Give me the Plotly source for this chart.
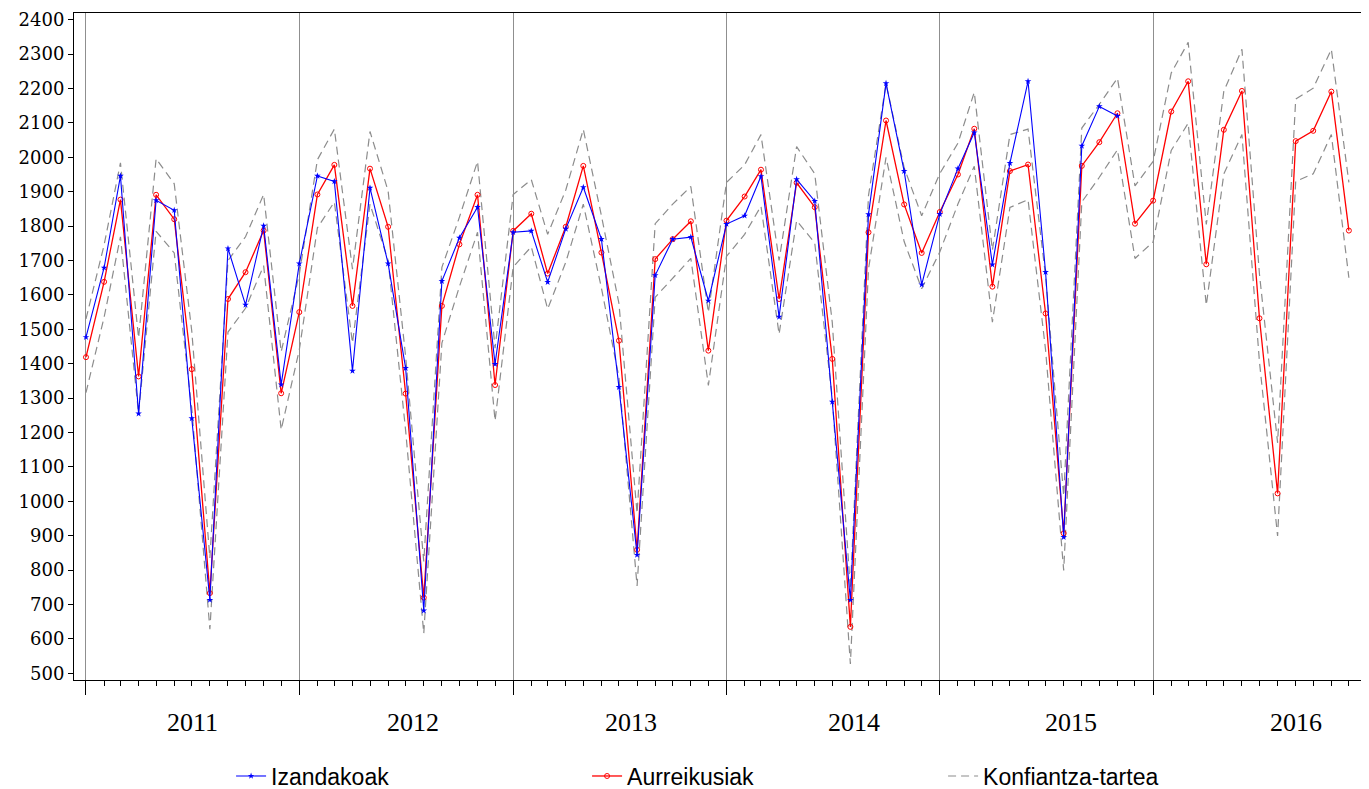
import plotly.graph_objects as go
import pandas as pd

months = pd.date_range("2011-01-01", periods=72, freq="MS")

izandakoak = [
    1477, 1679, 1946, 1255, 1875, 1846, 1241, 713, 1735, 1571, 1801, 1339,
    1691, 1946, 1930, 1379, 1911, 1691, 1387, 682, 1640, 1766, 1855, 1399,
    1782, 1786, 1637, 1792, 1913, 1762, 1332, 844, 1657, 1762, 1768, 1583,
    1806, 1830, 1945, 1536, 1936, 1873, 1289, 713, 1834, 2215, 1960, 1630,
    1835, 1967, 2072, 1688, 1983, 2221, 1666, 896, 2033, 2148, 2120,
]

aurreikusiak = [
    1419, 1638, 1877, 1363, 1891, 1820, 1384, 733, 1588, 1666, 1787, 1314,
    1550, 1892, 1978, 1568, 1967, 1798, 1313, 720, 1568, 1747, 1891, 1338,
    1786, 1836, 1662, 1798, 1975, 1723, 1467, 859, 1704, 1762, 1814, 1438,
    1816, 1886, 1964, 1588, 1926, 1855, 1414, 635, 1782, 2107, 1863, 1722,
    1841, 1950, 2083, 1624, 1960, 1979, 1546, 907, 1975, 2044, 2128, 1807,
    1874, 2133, 2221, 1689, 2080, 2193, 1532, 1023, 2047, 2077, 2191, 1787,
]

goiko_muga = [
    1530, 1745, 1984, 1475, 1996, 1923, 1495, 835, 1700, 1769, 1892, 1435,
    1660, 1993, 2082, 1675, 2075, 1902, 1420, 825, 1680, 1826, 1988, 1445,
    1892, 1935, 1776, 1905, 2081, 1830, 1575, 965, 1807, 1864, 1915, 1549,
    1927, 1978, 2066, 1700, 2031, 1952, 1520, 745, 1889, 2215, 1970, 1830,
    1953, 2041, 2189, 1730, 2066, 2082, 1655, 1015, 2085, 2154, 2230, 1917,
    1988, 2245, 2334, 1805, 2192, 2314, 1660, 1170, 2169, 2201, 2314, 1927,
]

beheko_muga = [
    1316, 1535, 1769, 1255, 1785, 1722, 1270, 628, 1492, 1561, 1685, 1208,
    1440, 1795, 1870, 1460, 1864, 1700, 1205, 616, 1460, 1624, 1782, 1234,
    1681, 1740, 1559, 1695, 1864, 1620, 1360, 754, 1593, 1650, 1706, 1337,
    1712, 1776, 1858, 1486, 1816, 1751, 1300, 527, 1675, 2000, 1755, 1618,
    1725, 1864, 1974, 1521, 1854, 1877, 1440, 799, 1870, 1942, 2022, 1706,
    1754, 2020, 2099, 1570, 1952, 2066, 1405, 899, 1930, 1952, 2066, 1650,
]

urteak = ["2011", "2012", "2013", "2014", "2015", "2016"]
urte_etiketa_pos = ["2011-07-02", "2012-07-13", "2013-07-22", "2014-08-07", "2015-08-14", "2016-09-02"]

series_names = ["Izandakoak", "Aurreikusiak", "Konfiantza-tartea"]

fig = go.Figure()

dash_style = dict(color="#8c8c8c", width=1.2, dash="8px,5px")
fig.add_trace(go.Scatter(x=months, y=goiko_muga, mode="lines", line=dash_style,
                         name=series_names[2], legendrank=3, showlegend=True, hoverinfo="skip"))
fig.add_trace(go.Scatter(x=months, y=beheko_muga, mode="lines", line=dash_style,
                         name=series_names[2], showlegend=False, hoverinfo="skip"))
fig.add_trace(go.Scatter(x=months, y=aurreikusiak, mode="lines+markers", name=series_names[1],
                         legendrank=2,
                         line=dict(color="#ff0000", width=1.3),
                         marker=dict(symbol="circle-open", size=5, color="#ff0000",
                                     line=dict(width=1, color="#ff0000"))))
fig.add_trace(go.Scatter(x=months[:len(izandakoak)], y=izandakoak, mode="lines+markers",
                         name=series_names[0], legendrank=1,
                         line=dict(color="#0000ff", width=1.1),
                         marker=dict(symbol="star", size=5, color="#0000ff")))

for lbl, pos in zip(urteak, urte_etiketa_pos):
    fig.add_annotation(x=pos, y=0, xref="x", yref="paper", yshift=-42, text=lbl,
                       showarrow=False, yanchor="middle",
                       font=dict(family="Liberation Serif", size=26, color="#000000"))

# The page body has an 8px margin, so the figure is sized to fit inside it.
fig.update_layout(
    width=1361, height=781,
    margin=dict(l=66, r=2, t=5, b=109, autoexpand=False),
    paper_bgcolor="white", plot_bgcolor="white",
    showlegend=True,
    legend=dict(orientation="h", xref="container", yref="container",
                x=0.1639, xanchor="left", y=0.0166, yanchor="middle",
                font=dict(family="Liberation Sans", size=23, color="#000000"),
                entrywidth=311, entrywidthmode="pixels", traceorder="normal",
                bgcolor="rgba(0,0,0,0)"),
    xaxis=dict(
        type="date",
        range=["2010-12-11 12:00", "2017-01-01"],
        tick0="2011-01-01", dtick="M12",
        ticks="outside", ticklen=14, tickcolor="#000000", tickwidth=1,
        showticklabels=False,
        showgrid=True, gridcolor="#8f8f8f", gridwidth=1,
        showline=True, linecolor="#000000", linewidth=1, mirror=True,
        zeroline=False,
        minor=dict(dtick="M1", tick0="2011-01-01", ticks="outside", ticklen=5,
                   tickcolor="#000000", showgrid=False),
    ),
    yaxis=dict(
        range=[480.5, 2419.5],
        tickmode="linear", tick0=500, dtick=100,
        ticks="outside", ticklen=5, tickcolor="#000000",
        tickfont=dict(family="DejaVu Serif", size=18, color="#000000"),
        showgrid=False, zeroline=False,
        showline=True, linecolor="#000000", linewidth=1, mirror=True,
    ),
)

fig.write_html("out.html")
